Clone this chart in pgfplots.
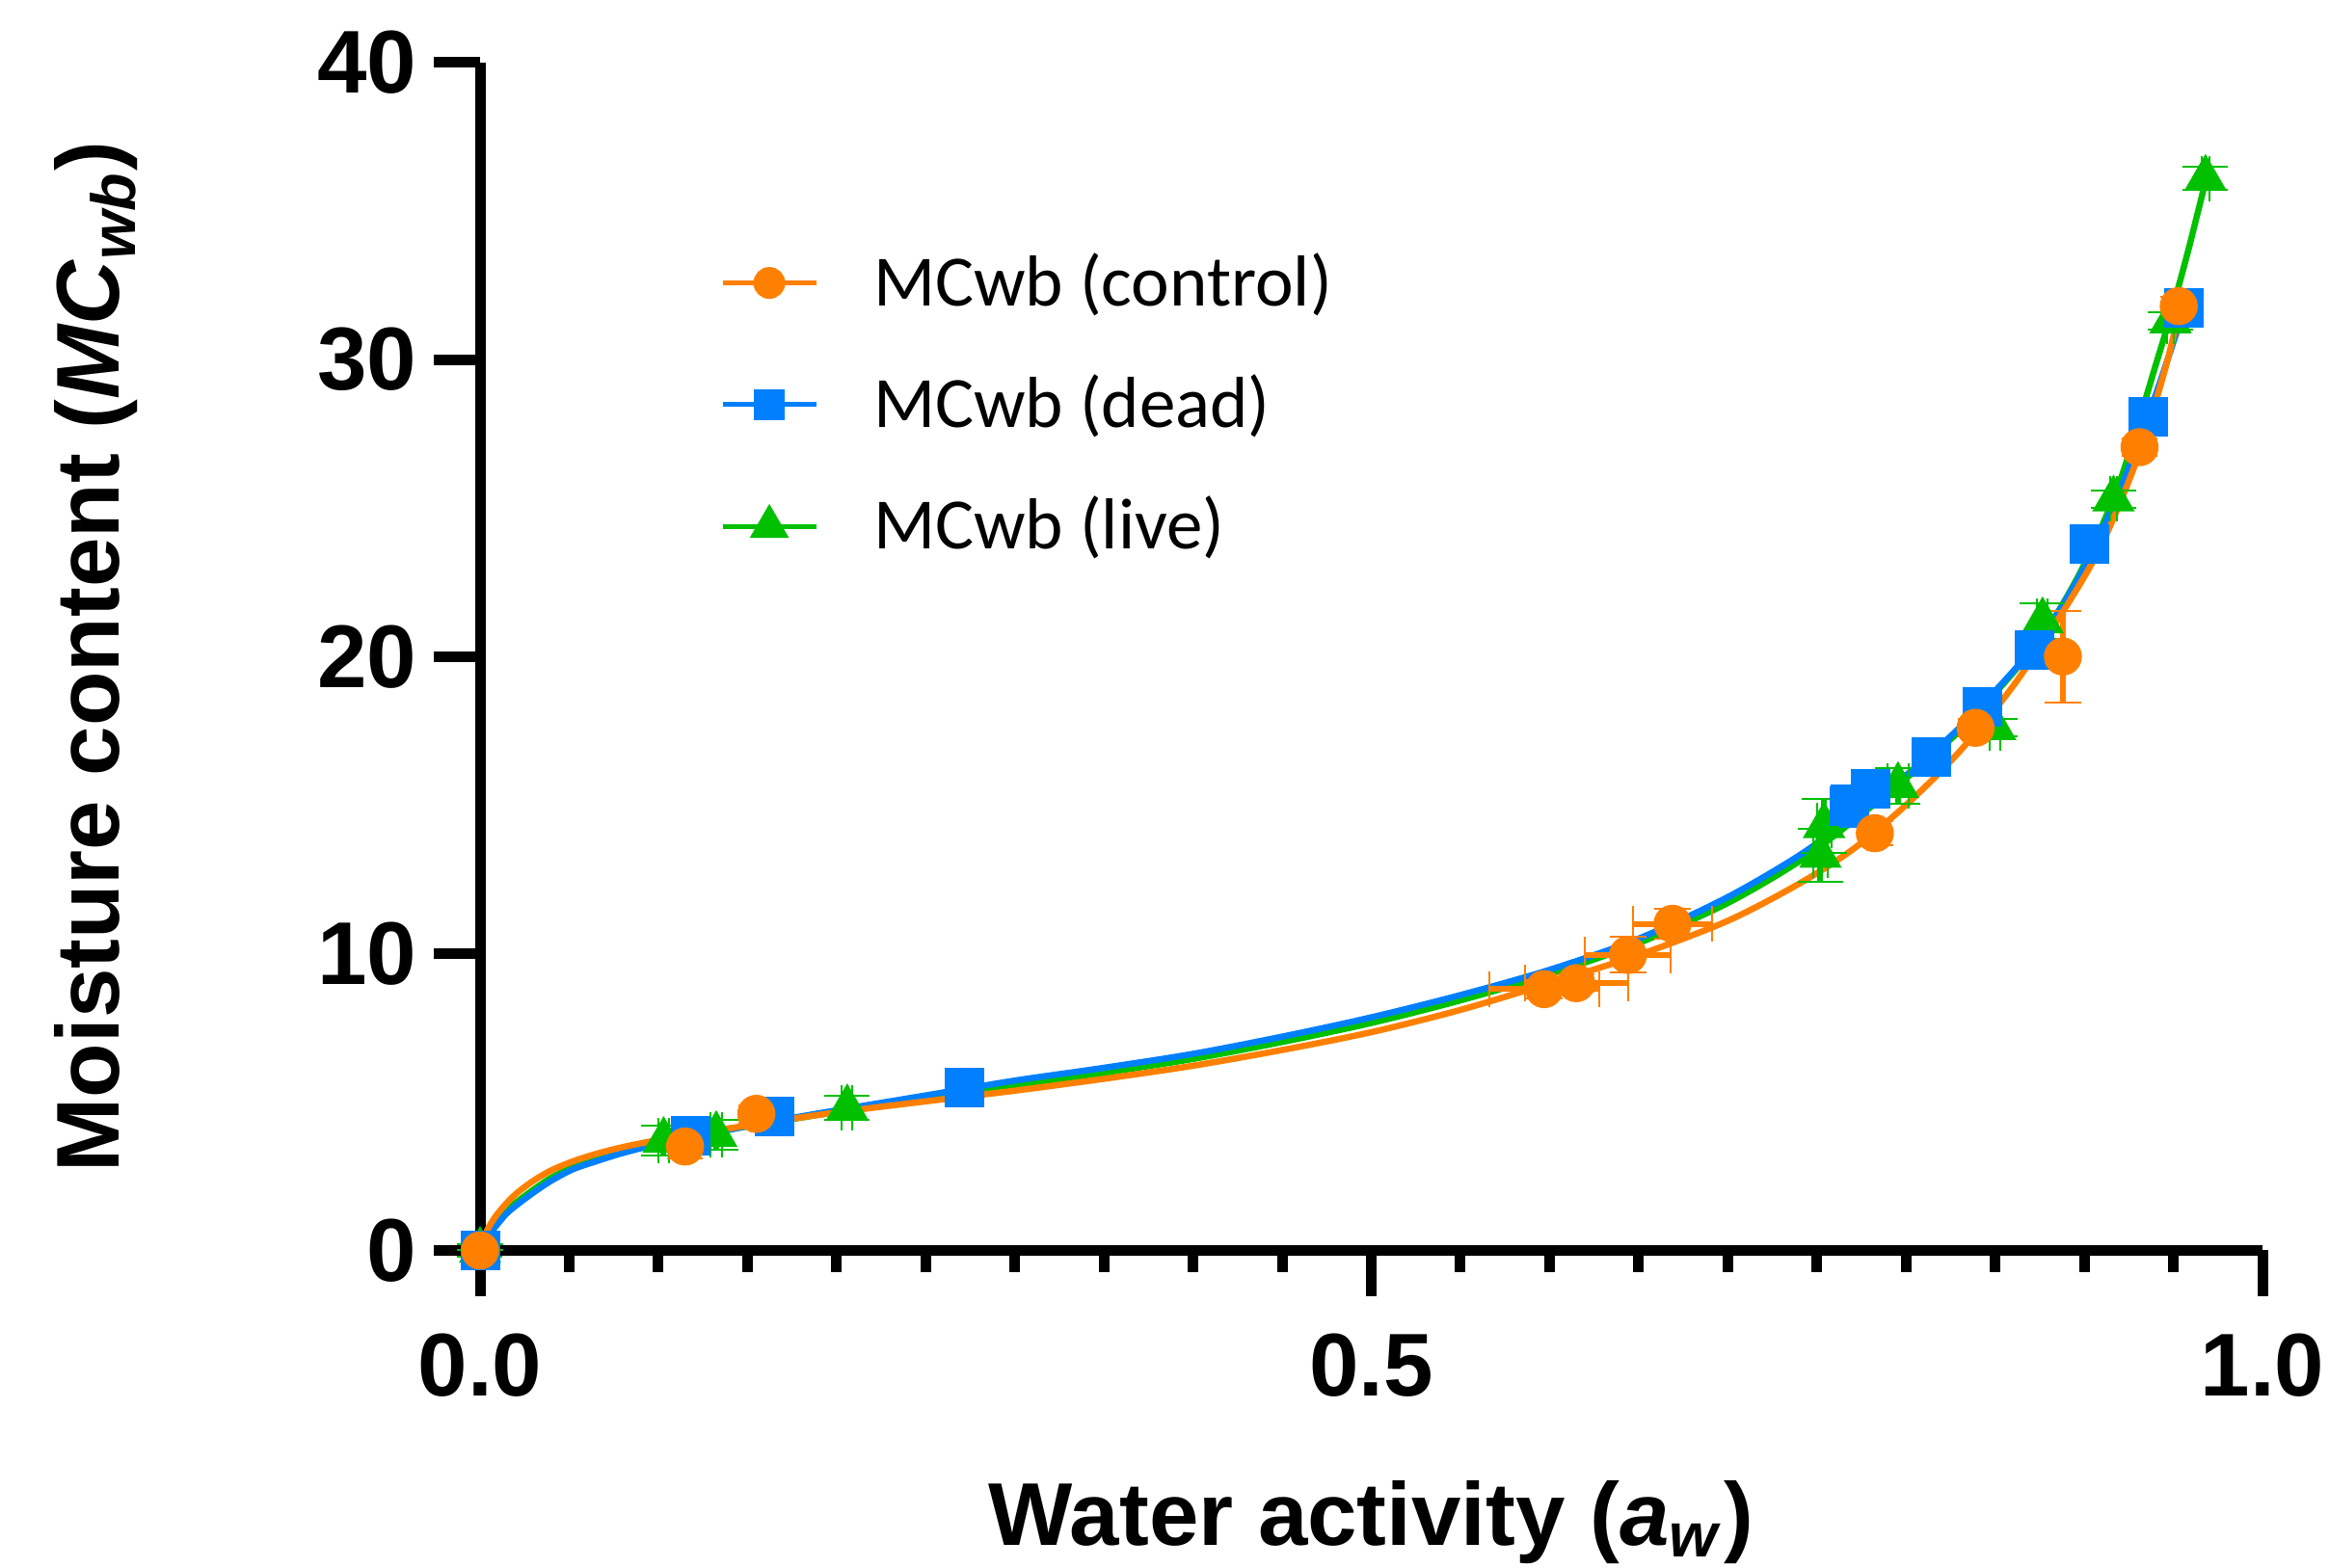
\documentclass[border=0pt]{standalone}
\usepackage{fontspec}
\setmainfont{Liberation Sans}
\newfontfamily\carlito{Carlito}
\usepackage{pgfplots}
\usepackage{pgfplotstable}
\pgfplotsset{compat=1.18}

\definecolor{cor}{RGB}{255,128,0}
\definecolor{cbl}{RGB}{0,128,255}
\definecolor{cgr}{RGB}{0,192,0}

% fitted curves
\pgfplotstableread[row sep=\\]{
a m \\
0 0 \\ 0.003 0.55 \\ 0.006 0.9 \\ 0.01 1.25 \\ 0.015 1.6 \\ 0.021 1.95 \\ 0.03 2.35 \\
0.04 2.7 \\ 0.052 3.0 \\ 0.065 3.25 \\ 0.08 3.48 \\ 0.1 3.72 \\ 0.13 4.02 \\ 0.16 4.3 \\
0.2 4.65 \\ 0.25 5.02 \\ 0.3 5.38 \\ 0.35 5.78 \\ 0.4 6.22 \\ 0.45 6.75 \\ 0.5 7.35 \\
0.55 8.1 \\ 0.6 9.0 \\ 0.65 9.95 \\ 0.7 11.1 \\ 0.74 12.35 \\ 0.77 13.5 \\ 0.8 15.0 \\
0.83 16.8 \\ 0.86 19.0 \\ 0.89 21.7 \\ 0.91 23.8 \\ 0.93 26.7 \\ 0.945 29.6 \\ 0.954 31.8 \\
}\ocurve
\pgfplotstableread[row sep=\\]{
a m \\
0 0 \\ 0.003 0.35 \\ 0.006 0.6 \\ 0.01 0.9 \\ 0.015 1.25 \\ 0.021 1.55 \\ 0.03 1.95 \\
0.04 2.35 \\ 0.052 2.73 \\ 0.065 3.0 \\ 0.08 3.28 \\ 0.1 3.58 \\ 0.13 3.95 \\ 0.16 4.3 \\
0.2 4.72 \\ 0.25 5.22 \\ 0.3 5.72 \\ 0.35 6.15 \\ 0.4 6.62 \\ 0.45 7.2 \\ 0.5 7.85 \\
0.55 8.6 \\ 0.6 9.45 \\ 0.65 10.5 \\ 0.7 11.9 \\ 0.74 13.3 \\ 0.77 14.6 \\ 0.8 16.0 \\
0.83 17.6 \\ 0.86 19.5 \\ 0.88 21.0 \\ 0.9 23.0 \\ 0.92 25.6 \\ 0.94 28.8 \\ 0.956 31.7 \\
}\bcurve
\pgfplotstableread[row sep=\\]{
a m \\
0 0 \\ 0.003 0.4 \\ 0.006 0.65 \\ 0.01 0.98 \\ 0.015 1.33 \\ 0.021 1.65 \\ 0.03 2.05 \\
0.04 2.45 \\ 0.052 2.8 \\ 0.065 3.06 \\ 0.08 3.32 \\ 0.1 3.62 \\ 0.13 3.97 \\ 0.16 4.28 \\
0.2 4.66 \\ 0.25 5.12 \\ 0.3 5.55 \\ 0.35 5.98 \\ 0.4 6.45 \\ 0.45 7.02 \\ 0.5 7.66 \\
0.55 8.42 \\ 0.6 9.3 \\ 0.65 10.35 \\ 0.7 11.7 \\ 0.74 13.1 \\ 0.77 14.45 \\ 0.8 15.9 \\
0.83 17.5 \\ 0.86 19.45 \\ 0.88 21.0 \\ 0.9 23.1 \\ 0.92 25.9 \\ 0.94 29.8 \\ 0.948 31.4 \\
0.958 33.6 \\ 0.968 36.0 \\
}\gcurve

% measured points: a, MC, error in a, error in MC
\pgfplotstableread[row sep=\\]{
a m ea em \\
0 0 0 0.2 \\ 0.115 3.5 0.003 0.4 \\ 0.155 4.6 0.003 0.3 \\
0.597 8.8 0.031 0.3 \\ 0.615 9.0 0.029 0.3 \\ 0.644 9.95 0.024 0.6 \\ 0.669 11.0 0.022 0.5 \\
0.7825 14.05 0.004 0.4 \\ 0.839 17.6 0.003 0.3 \\ 0.888 20.0 0.003 1.54 \\
0.931 27.05 0.002 0.3 \\ 0.953 31.8 0.002 0.3 \\
}\opts
\pgfplotstableread[row sep=\\]{
a m ea em \\
0 0 0 0.2 \\ 0.118 3.85 0.003 0.3 \\ 0.165 4.5 0.003 0.3 \\ 0.272 5.5 0.003 0.3 \\
0.768 14.96 0.007 0.7 \\ 0.780 15.56 0.006 0.5 \\ 0.814 16.62 0.004 0.3 \\
0.843 18.3 0.003 0.3 \\ 0.872 20.23 0.003 0.3 \\ 0.903 23.8 0.002 0.3 \\
0.936 28.06 0.002 0.3 \\ 0.956 31.74 0.002 0.3 \\
}\bpts
\pgfplotstableread[row sep=\\]{
a m ea em \\
0 0 0 0.2 \\ 0.103 3.7 0.003 0.5 \\ 0.1325 3.9 0.003 0.5 \\ 0.206 4.8 0.003 0.4 \\
0.752 13.3 0.004 0.9 \\ 0.754 14.3 0.004 0.9 \\ 0.7955 15.65 0.006 0.6 \\
0.85 17.6 0.003 0.3 \\ 0.8766 21.2 0.003 0.6 \\ 0.9164 25.3 0.002 0.3 \\
0.9484 31.3 0.002 0.3 \\ 0.968 36.1 0.002 0.4 \\
}\gpts

\begin{document}
\begin{tikzpicture}
\begin{axis}[
  at={(0,0)}, anchor=origin,
  scale only axis, width=369.8pt, height=246.5pt,
  xmin=0, xmax=1, ymin=0, ymax=40,
  clip=false,
  axis x line=bottom, axis y line=left,
  axis line style={-, line width=2.2pt, black},
  xtick={0,0.5,1}, minor x tick num=9,
  ytick={0,10,20,30,40},
  tick align=outside,
  major tick length=9.5pt, minor tick length=4.5pt,
  every tick/.style={black, line width=2.2pt},
  /pgf/number format/assume math mode=true,
  tick label style={font=\bfseries\fontsize{18.5}{20}\selectfont},
  xticklabel style={/pgf/number format/fixed, /pgf/number format/fixed zerofill,
     /pgf/number format/precision=1, inner sep=0pt, yshift=-7.5pt},
  yticklabel style={inner sep=3.5pt},
  xlabel={Water activity (\textit{a}\textsubscript{\textit{w}})},
  xlabel style={at={(axis description cs:0.5,-0.1927)}, anchor=north, inner sep=0pt,
     font=\bfseries\fontsize{18.5}{20}\selectfont},
  ylabel={Moisture content (\textit{MC}\textsubscript{\textit{wb}})},
  ylabel style={at={(axis description cs:-0.2153,0.5)}, anchor=center, inner sep=0pt,
     font=\bfseries\fontsize{18.5}{20}\selectfont},
  legend style={at={(axis description cs:0.1347,0.712)}, anchor=west,
     draw=none, fill=none, inner sep=0pt, outer sep=0pt,
     font=\carlito\fontsize{15}{18}\selectfont, row sep=12.8pt,
     nodes={inner sep=0pt},
     /tikz/every odd column/.append style={column sep=11.4pt}},
  legend cell align=left,
  legend image code/.code={\draw[mark repeat=2, mark phase=2, #1]
     plot coordinates {(0pt,0pt) (9.7pt,0pt) (19.4pt,0pt)};},
]
\addlegendimage{cor, line width=1pt, mark=*, mark size=2.8pt}
\addlegendentry{MCwb (control)}
\addlegendimage{cbl, line width=1pt, mark=square*, mark size=2.75pt}
\addlegendentry{MCwb (dead)}
\addlegendimage{cgr, line width=1pt, mark=triangle*, mark size=3.7pt}
\addlegendentry{MCwb (live)}

\addplot[cgr, line width=1.3pt, smooth, no marks, forget plot] table[x=a, y=m] {\gcurve};
\addplot[cbl, line width=1.3pt, smooth, no marks, forget plot] table[x=a, y=m] {\bcurve};
\addplot[cor, line width=1.3pt, smooth, no marks, forget plot] table[x=a, y=m] {\ocurve};

\addplot[cgr, only marks, mark=triangle*, mark size=4.7pt, forget plot,
  error bars/.cd, x dir=both, x explicit, y dir=both, y explicit,
  error bar style={line width=1.2pt, cgr}]
  table[x=a, y=m, x error=ea, y error=em] {\gpts};
\addplot[cbl, only marks, mark=square*, mark size=3.9pt, forget plot,
  error bars/.cd, x dir=both, x explicit, y dir=both, y explicit,
  error bar style={line width=1.2pt, cbl}]
  table[x=a, y=m, x error=ea, y error=em] {\bpts};
\addplot[cor, only marks, mark=*, mark size=3.75pt, forget plot,
  error bars/.cd, x dir=both, x explicit, y dir=both, y explicit,
  error bar style={line width=1.2pt, cor}]
  table[x=a, y=m, x error=ea, y error=em] {\opts};
\end{axis}
\pgfresetboundingbox
\path[use as bounding box] (-99.6pt,-65.9pt) rectangle (383.6pt,259.5pt);
\end{tikzpicture}
\end{document}
